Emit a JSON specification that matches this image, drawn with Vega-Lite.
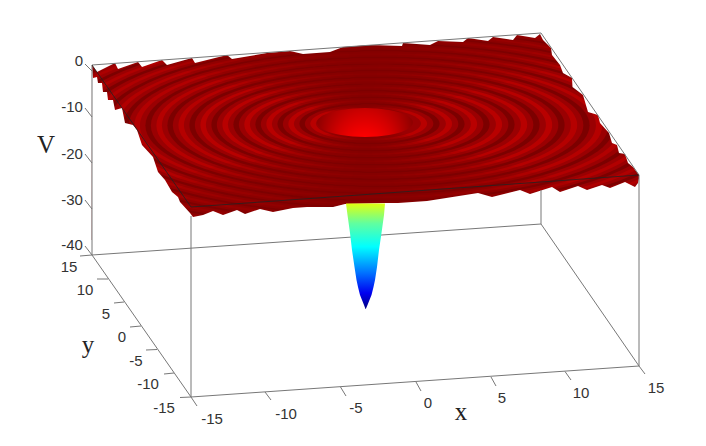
{
"$schema":"https://vega.github.io/schema/vega-lite/v6.json",
"width":706,"height":446,"padding":0,
"autosize":"none",
"background":"white",
"view":{"stroke":null},
"datasets":{
"field":[{"u":7,"u2":727,"v":10,"v2":240}],
"rings":[
{"a":369.75,"u":388.7,"v":126.9,"phase":0.5},{"a":363.9,"u":388.3,"v":126.9,"phase":0.8},{"a":358,"u":387.9,"v":126.8,"phase":0.5},{"a":352.1,"u":387.5,"v":126.7,"phase":0},
{"a":346.25,"u":387.2,"v":126.7,"phase":0.5},{"a":340.4,"u":386.8,"v":126.6,"phase":0.8},{"a":334.5,"u":386.4,"v":126.5,"phase":0.5},{"a":328.6,"u":386,"v":126.5,"phase":0},
{"a":322.75,"u":385.7,"v":126.4,"phase":0.5},{"a":316.9,"u":385.3,"v":126.4,"phase":0.85},{"a":311,"u":384.9,"v":126.3,"phase":0.5},{"a":305.1,"u":384.5,"v":126.2,"phase":0},
{"a":299.25,"u":384.2,"v":126.2,"phase":0.5},{"a":293.4,"u":383.8,"v":126.1,"phase":0.85},{"a":287.5,"u":383.4,"v":126,"phase":0.5},{"a":281.6,"u":383,"v":126,"phase":0},
{"a":275.75,"u":382.6,"v":125.9,"phase":0.5},{"a":269.9,"u":382.3,"v":125.9,"phase":0.9},{"a":264,"u":381.9,"v":125.8,"phase":0.5},{"a":258.1,"u":381.5,"v":125.7,"phase":0},
{"a":252.25,"u":381.1,"v":125.7,"phase":0.5},{"a":246.4,"u":380.8,"v":125.6,"phase":0.9},{"a":240.5,"u":380.4,"v":125.5,"phase":0.5},{"a":234.6,"u":380,"v":125.5,"phase":0},
{"a":228.75,"u":379.6,"v":125.4,"phase":0.5},{"a":222.9,"u":379.3,"v":125.4,"phase":0.95},{"a":217,"u":378.9,"v":125.3,"phase":0.5},{"a":211.1,"u":378.5,"v":125.2,"phase":0},
{"a":205.25,"u":378.1,"v":125.2,"phase":0.5},{"a":199.4,"u":377.8,"v":125.1,"phase":0.95},{"a":193.5,"u":377.4,"v":125.1,"phase":0.5},{"a":187.6,"u":377,"v":125,"phase":0},
{"a":181.75,"u":376.6,"v":124.9,"phase":0.5},{"a":175.9,"u":376.3,"v":124.9,"phase":1},{"a":170,"u":375.9,"v":124.8,"phase":0.5},{"a":164.1,"u":375.5,"v":124.7,"phase":0},
{"a":158.25,"u":375.1,"v":124.7,"phase":0.5},{"a":152.4,"u":374.8,"v":124.6,"phase":1},{"a":146.5,"u":374.4,"v":124.6,"phase":0.5},{"a":140.6,"u":374,"v":124.5,"phase":0},
{"a":134.75,"u":373.6,"v":124.4,"phase":0.5},{"a":128.9,"u":373.2,"v":124.4,"phase":1},{"a":123,"u":372.9,"v":124.3,"phase":0.5},{"a":117.1,"u":372.5,"v":124.2,"phase":0},
{"a":111.25,"u":372.1,"v":124.2,"phase":0.5},{"a":105.4,"u":371.7,"v":124.1,"phase":1},{"a":99.5,"u":371.4,"v":124.1,"phase":0.5},{"a":93.6,"u":371,"v":124,"phase":0},
{"a":87.75,"u":370.6,"v":123.9,"phase":0.5},{"a":81.9,"u":370.2,"v":123.9,"phase":1},{"a":76,"u":369.9,"v":123.8,"phase":0.5},{"a":70.1,"u":369.5,"v":123.7,"phase":0},
{"a":64.25,"u":369.1,"v":123.7,"phase":0.5},{"a":58.4,"u":368.7,"v":123.6,"phase":1},{"a":52.5,"u":368.4,"v":123.6,"phase":0.5}
],
"wedges":[
{"w":1,"i":0,"u":365,"v":123},{"w":1,"i":1,"u":-9,"v":13},{"w":1,"i":2,"u":739,"v":13},
{"w":2,"i":0,"u":365,"v":123},{"w":2,"i":1,"u":51,"v":13},{"w":2,"i":2,"u":679,"v":13},
{"w":3,"i":0,"u":365,"v":123},{"w":3,"i":1,"u":103,"v":13},{"w":3,"i":2,"u":627,"v":13},
{"w":4,"i":0,"u":365,"v":123},{"w":4,"i":1,"u":149,"v":13},{"w":4,"i":2,"u":581,"v":13},
{"w":5,"i":0,"u":365,"v":123},{"w":5,"i":1,"u":190,"v":13},{"w":5,"i":2,"u":540,"v":13},
{"w":6,"i":0,"u":365,"v":123},{"w":6,"i":1,"u":229,"v":13},{"w":6,"i":2,"u":501,"v":13},
{"w":7,"i":0,"u":365,"v":123},{"w":7,"i":1,"u":258,"v":13},{"w":7,"i":2,"u":472,"v":13},
{"w":8,"i":0,"u":365,"v":123},{"w":8,"i":1,"u":285,"v":13},{"w":8,"i":2,"u":445,"v":13},
{"w":9,"i":0,"u":365,"v":123},{"w":9,"i":1,"u":312,"v":13},{"w":9,"i":2,"u":418,"v":13},
{"w":10,"i":0,"u":365,"v":123},{"w":10,"i":1,"u":339,"v":13},{"w":10,"i":2,"u":391,"v":13},
{"w":11,"i":0,"u":365,"v":123},{"w":11,"i":1,"u":-9,"v":233},{"w":11,"i":2,"u":739,"v":233},
{"w":12,"i":0,"u":365,"v":123},{"w":12,"i":1,"u":51,"v":233},{"w":12,"i":2,"u":679,"v":233},
{"w":13,"i":0,"u":365,"v":123},{"w":13,"i":1,"u":103,"v":233},{"w":13,"i":2,"u":627,"v":233},
{"w":14,"i":0,"u":365,"v":123},{"w":14,"i":1,"u":149,"v":233},{"w":14,"i":2,"u":581,"v":233},
{"w":15,"i":0,"u":365,"v":123},{"w":15,"i":1,"u":190,"v":233},{"w":15,"i":2,"u":540,"v":233},
{"w":16,"i":0,"u":365,"v":123},{"w":16,"i":1,"u":229,"v":233},{"w":16,"i":2,"u":501,"v":233},
{"w":17,"i":0,"u":365,"v":123},{"w":17,"i":1,"u":258,"v":233},{"w":17,"i":2,"u":472,"v":233},
{"w":18,"i":0,"u":365,"v":123},{"w":18,"i":1,"u":285,"v":233},{"w":18,"i":2,"u":445,"v":233},
{"w":19,"i":0,"u":365,"v":123},{"w":19,"i":1,"u":312,"v":233},{"w":19,"i":2,"u":418,"v":233},
{"w":20,"i":0,"u":365,"v":123},{"w":20,"i":1,"u":339,"v":233},{"w":20,"i":2,"u":391,"v":233}
],
"bowl":[
{"i":0,"u":317,"v":122.5},{"i":1,"u":323.4,"v":115.3},{"i":2,"u":341,"v":110},{"i":3,"u":365,"v":108},{"i":4,"u":389,"v":110},{"i":5,"u":406.6,"v":115.3},{"i":6,"u":413,"v":122.5},{"i":7,"u":406.6,"v":129.8},{"i":8,"u":389,"v":135},{"i":9,"u":365,"v":137},{"i":10,"u":341,"v":135},{"i":11,"u":323.4,"v":129.8}
],
"upper":[
{"u":-5,"v":446},{"u":91.5,"v":446},{"u":92,"v":65},{"u":97,"v":72},{"u":115,"v":63},{"u":118,"v":69},{"u":138,"v":62},{"u":142,"v":67},{"u":162,"v":60},{"u":167,"v":65},{"u":192,"v":58},{"u":195,"v":63},{"u":227,"v":55},{"u":232,"v":59},{"u":267,"v":53},{"u":290,"v":51},{"u":303,"v":54},{"u":330,"v":52},{"u":343,"v":47},{"u":370,"v":45},{"u":402,"v":46},{"u":403,"v":43},{"u":430,"v":45},{"u":438,"v":41},{"u":463,"v":42},{"u":468,"v":38},{"u":488,"v":41},{"u":493,"v":37},{"u":513,"v":40},{"u":517,"v":35},{"u":535,"v":38},{"u":540,"v":34},{"u":543,"v":40},{"u":551,"v":48},{"u":552,"v":55},{"u":560,"v":65},{"u":563,"v":73},{"u":572,"v":78},{"u":572.5,"v":87},{"u":583,"v":95},{"u":588,"v":112},{"u":598,"v":115},{"u":600,"v":123},{"u":609,"v":133},{"u":612,"v":143},{"u":617,"v":145},{"u":619,"v":153},{"u":625,"v":154},{"u":628,"v":163},{"u":633,"v":167},{"u":639,"v":175},{"u":639.5,"v":446},{"u":711,"v":446}
],
"lower":[
{"u":92,"v":65},{"u":93,"v":78},{"u":97,"v":77},{"u":98,"v":83},{"u":102,"v":83},{"u":103,"v":92},{"u":107,"v":92},{"u":108,"v":100},{"u":113,"v":100},{"u":115,"v":110},{"u":122,"v":108},{"u":125,"v":123},{"u":133,"v":125},{"u":137,"v":130},{"u":142,"v":145},{"u":153,"v":157},{"u":158,"v":172},{"u":165,"v":180},{"u":172,"v":192},{"u":178,"v":197},{"u":180,"v":202},{"u":190,"v":213},{"u":193,"v":217},{"u":203,"v":215},{"u":213,"v":211},{"u":223,"v":215},{"u":237,"v":210},{"u":245,"v":214},{"u":260,"v":209},{"u":273,"v":212},{"u":293,"v":208},{"u":307,"v":207},{"u":333,"v":207},{"u":345,"v":204},{"u":385,"v":203},{"u":398,"v":203},{"u":427,"v":201},{"u":478,"v":193},{"u":492,"v":197},{"u":520,"v":190},{"u":530,"v":194},{"u":552,"v":187},{"u":560,"v":192},{"u":578,"v":186},{"u":587,"v":190},{"u":602,"v":185},{"u":610,"v":188},{"u":625,"v":182},{"u":635,"v":187},{"u":638,"v":183},{"u":639.5,"v":176}
],
"box":[
{"id":"b1","i":0,"u":92,"v":65},{"id":"b1","i":1,"u":92,"v":255},
{"id":"b2","i":0,"u":92,"v":65},{"id":"b2","i":1,"u":541,"v":33},
{"id":"b3","i":0,"u":541,"v":33},{"id":"b3","i":1,"u":639,"v":175},
{"id":"b4","i":0,"u":639,"v":175},{"id":"b4","i":1,"u":639,"v":366},
{"id":"b5","i":0,"u":92,"v":255},{"id":"b5","i":1,"u":191,"v":397},
{"id":"b6","i":0,"u":191,"v":397},{"id":"b6","i":1,"u":639,"v":366},
{"id":"b7","i":0,"u":639,"v":366},{"id":"b7","i":1,"u":541,"v":224},
{"id":"b8","i":0,"u":541,"v":224},{"id":"b8","i":1,"u":92,"v":255},
{"id":"b9","i":0,"u":541,"v":190},{"id":"b9","i":1,"u":541,"v":224},
{"id":"b10","i":0,"u":191,"v":216},{"id":"b10","i":1,"u":191,"v":397},
{"id":"v0","i":0,"u":85,"v":64},{"id":"v0","i":1,"u":92,"v":71},
{"id":"v1","i":0,"u":85,"v":108},{"id":"v1","i":1,"u":92,"v":117},
{"id":"v2","i":0,"u":85,"v":154},{"id":"v2","i":1,"u":92,"v":163},
{"id":"v3","i":0,"u":85,"v":200},{"id":"v3","i":1,"u":92,"v":209},
{"id":"v4","i":0,"u":85,"v":246},{"id":"v4","i":1,"u":92,"v":255},
{"id":"y0","i":0,"u":80,"v":256},{"id":"y0","i":1,"u":92,"v":255},
{"id":"y1","i":0,"u":97,"v":279},{"id":"y1","i":1,"u":108,"v":279},
{"id":"y2","i":0,"u":114,"v":303},{"id":"y2","i":1,"u":124,"v":302},
{"id":"y3","i":0,"u":130,"v":327},{"id":"y3","i":1,"u":141,"v":326},
{"id":"y4","i":0,"u":146,"v":350},{"id":"y4","i":1,"u":157,"v":349.5},
{"id":"y5","i":0,"u":164,"v":374},{"id":"y5","i":1,"u":174,"v":373},
{"id":"y6","i":0,"u":180,"v":397.5},{"id":"y6","i":1,"u":191,"v":397},
{"id":"x0","i":0,"u":191,"v":397},{"id":"x0","i":1,"u":197,"v":406},
{"id":"x1","i":0,"u":265,"v":392},{"id":"x1","i":1,"u":271,"v":400},
{"id":"x2","i":0,"u":340.5,"v":387},{"id":"x2","i":1,"u":346,"v":396},
{"id":"x3","i":0,"u":416,"v":382},{"id":"x3","i":1,"u":421,"v":391},
{"id":"x4","i":0,"u":491,"v":377},{"id":"x4","i":1,"u":496,"v":386},
{"id":"x5","i":0,"u":565,"v":371.5},{"id":"x5","i":1,"u":571,"v":380},
{"id":"x6","i":0,"u":639,"v":366},{"id":"x6","i":1,"u":645,"v":374}
],
"edge":[{"i":0,"u":92,"v":65},{"i":1,"u":191,"v":207},{"i":2,"u":639,"v":175}],
"well":[
{"v":203.5,"l":346,"r":385},{"v":215,"l":347.5,"r":384},{"v":233,"l":350,"r":381.5},{"v":250,"l":352,"r":379},{"v":267,"l":354.5,"r":377},{"v":280,"l":356.5,"r":375},{"v":287,"l":358,"r":373.5},{"v":295,"l":360,"r":371.5},{"v":300,"l":362,"r":369.5},{"v":305,"l":364,"r":367.5},{"v":309,"l":365.5,"r":365.8}
],
"ticks":[
{"t":"0","u":79,"v":61},{"t":"-10","u":72,"v":107},{"t":"-20","u":72,"v":154},{"t":"-30","u":72,"v":200},{"t":"-40","u":72,"v":245},
{"t":"15","u":69,"v":267},{"t":"10","u":85,"v":290},{"t":"5","u":106,"v":314},{"t":"0","u":122,"v":337},{"t":"-5","u":136,"v":361},{"t":"-10","u":148,"v":384},{"t":"-15","u":164,"v":408},
{"t":"-15","u":212,"v":419},{"t":"-10","u":286,"v":414},{"t":"-5","u":356,"v":408},{"t":"0","u":428,"v":403},{"t":"5","u":502,"v":398},{"t":"10","u":581,"v":393},{"t":"15","u":656,"v":388}
],
"titles":[{"t":"V","u":46,"v":145},{"t":"y","u":88,"v":345},{"t":"x","u":461,"v":412}]
},
"encoding":{
"x":{"field":"u","type":"quantitative","scale":{"domain":[0,706],"nice":false,"zero":false},"axis":null},
"y":{"field":"v","type":"quantitative","scale":{"domain":[446,0],"nice":false,"zero":false},"axis":null}
},
"layer":[
{"data":{"name":"field"},
"mark":{"type":"rect","color":"#7c0000"},
"encoding":{"x2":{"field":"u2"},"y2":{"field":"v2"}}},
{"data":{"name":"rings"},
"mark":{"type":"point","filled":true,"opacity":1,"strokeWidth":0,"shape":"M-1,0A1,0.294,0,1,1,1,0A1,0.294,0,1,1,-1,0Z"},
"encoding":{
"size":{"field":"a","type":"quantitative","scale":{"type":"pow","exponent":2,"domain":[0,400],"range":[0,640000]},"legend":null},
"color":{"field":"phase","type":"quantitative","scale":{"domain":[0,1],"range":["#7c0000","#b80000"]},"legend":null},
"order":{"field":"a","sort":"descending"}}},
{"data":{"name":"wedges"},
"mark":{"type":"line","fill":"#800000","fillOpacity":0.16,"strokeWidth":0,"stroke":null},
"encoding":{"detail":{"field":"w"},"order":{"field":"i"}}},
{"data":{"name":"bowl"},
"mark":{"type":"line","interpolate":"cardinal-closed","strokeWidth":0,"stroke":null,"fill":{"gradient":"radial","x1":0.5,"y1":0.92,"r1":0,"x2":0.5,"y2":0.5,"r2":0.62,"stops":[{"offset":0,"color":"#ff0000"},{"offset":0.25,"color":"#ff0000"},{"offset":0.5,"color":"#d00000"},{"offset":0.8,"color":"#900000"},{"offset":1,"color":"#800000"}]}},
"encoding":{"order":{"field":"i"}}},
{"data":{"name":"upper"},"mark":{"type":"area","color":"white"},"encoding":{"y2":{"datum":0}}},
{"data":{"name":"lower"},"mark":{"type":"area","color":"white"},"encoding":{"y2":{"datum":446}}},
{"data":{"name":"box"},"mark":{"type":"line","color":"#777777","strokeWidth":1},"encoding":{"detail":{"field":"id"},"order":{"field":"i"}}},
{"data":{"name":"edge"},"mark":{"type":"line","color":"#222222","strokeWidth":0.8},"encoding":{"order":{"field":"i"}}},
{"data":{"name":"well"},
"mark":{"type":"area","orient":"horizontal","color":{"gradient":"linear","x1":0,"y1":0,"x2":0,"y2":1,"stops":[{"offset":0,"color":"#e0ff10"},{"offset":0.19,"color":"#60ffa0"},{"offset":0.41,"color":"#00ffff"},{"offset":0.66,"color":"#0070ff"},{"offset":0.85,"color":"#0000f0"},{"offset":1,"color":"#000080"}]}},
"encoding":{"x":{"field":"l","type":"quantitative","scale":{"domain":[0,706],"nice":false,"zero":false},"axis":null},"x2":{"field":"r"}}},
{"data":{"name":"ticks"},"mark":{"type":"text","font":"Liberation Sans","fontSize":15,"color":"#333333","align":"center","baseline":"middle"},"encoding":{"text":{"field":"t"}}},
{"data":{"name":"titles"},"mark":{"type":"text","font":"Liberation Serif","fontSize":25,"color":"#222222","align":"center","baseline":"middle"},"encoding":{"text":{"field":"t"}}}
]
}
